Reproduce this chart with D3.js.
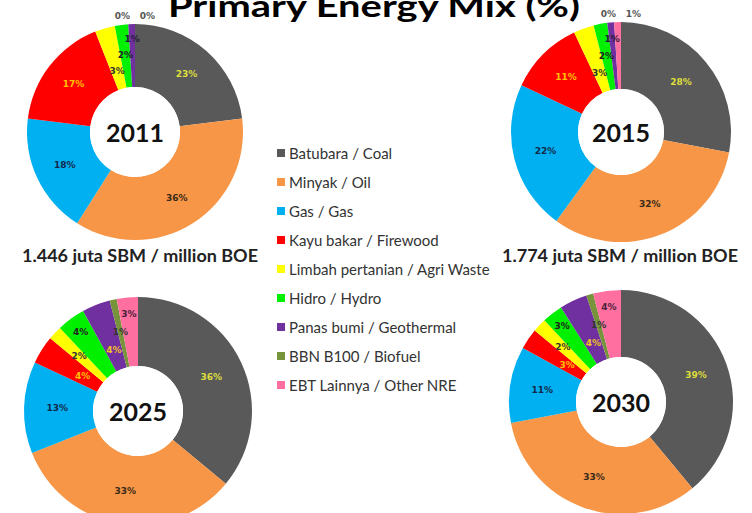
<!DOCTYPE html>
<html>
<head>
<meta charset="utf-8">
<script src="https://cdn.jsdelivr.net/npm/d3@7"></script>
<style>
  html, body { margin: 0; padding: 0; background: #fff; }
  #chartArea { width: 752px; height: 513px; overflow: hidden; }
</style>
</head>
<body>
<div id="chartArea"></div>
<script>
// primary energy mix donuts, 4 years + shared legend

const categories = [
   "Batubara / Coal",
   "Minyak / Oil",
   "Gas / Gas",
   "Kayu bakar / Firewood",
   "Limbah pertanian / Agri Waste",
   "Hidro / Hydro",
   "Panas bumi / Geothermal",
   "BBN B100 / Biofuel",
   "EBT Lainnya / Other NRE"
];

const years = ["2011", "2015", "2025", "2030"];

const mix2011 = [23, 36, 18, 17, 3, 2, 1, 0, 0];
const mix2015 = [28, 32, 22, 11, 3, 2, 1, 0, 1];
const mix2025 = [36, 33, 13, 4, 2, 4, 4, 1, 3];
const mix2030 = [39, 33, 11, 3, 2, 3, 4, 1, 4];

const mixes = [mix2011, mix2015, mix2025, mix2030];

const totals = ["1.446 juta SBM / million BOE", "1.774 juta SBM / million BOE"];

const title = "Primary Energy Mix (%)";

// styles
const sliceColors = ["#595959", "#f79646", "#00b0f0", "#ff0000", "#ffff00",
                     "#00f000", "#7030a0", "#77933c", "#ff6f9f"];
const labelColors = ["#dede3c", "#3a2a1a", "#13294b", "#ffc000", "#333333",
                     "#222222", "#f0c020", "#333333", "#4a1f3a"];

// where each donut sits
const donutPos = [
   {x: 135, y: 132, R: 108, r: 45},
   {x: 621, y: 132, R: 110, r: 43},
   {x: 138, y: 411, R: 114, r: 45},
   {x: 621, y: 402, R: 112, r: 45}
];

const W = 752, H = 513;

let svg = d3.select('#chartArea').append('svg')
   .attr('width', W)
   .attr('height', H)
   .style('font-family', 'Lato, sans-serif');

svg.append('rect').attr('width', W).attr('height', H).attr('fill', '#fff');

let pie = d3.pie().sort(null).value(d => d.v);

// small-slice label radii, as fraction of the ring band
const smallSteps = [0.3, 0.52, 0.76];

years.forEach(function (year, i) {
   let p = donutPos[i];
   let rows = mixes[i].map((v, j) => ({v: v, k: j}));
   let arcs = pie(rows);

   let arc = d3.arc().innerRadius(p.r).outerRadius(p.R);

   let g = svg.append('g').attr('transform', `translate(${p.x},${p.y})`);

   g.selectAll('path.slice').data(arcs)
      .enter().append('path')
      .attr('class', 'slice')
      .attr('d', arc)
      .attr('fill', d => sliceColors[d.data.k]);

   // label placement
   let smallIdx = 0;
   let outside = false;
   let outsideList = [];
   arcs.forEach(function (d) {
      let v = d.data.v;
      if (v === 0 || outside) {
         outside = true;
         outsideList.push(d);
         return;
      }
      let frac = 0.52;
      if (v < 5) {
         frac = smallSteps[smallIdx % 3];
         smallIdx++;
      }
      let rr = p.r + (p.R - p.r) * frac;
      let a = (d.startAngle + d.endAngle) / 2;
      d.lx = rr * Math.sin(a);
      d.ly = -rr * Math.cos(a);
   });
   outsideList.forEach(function (d, j) {
      d.lx = (j - (outsideList.length - 1) / 2) * 25;
      d.ly = -p.R - 8;
      d.out = true;
   });

   g.selectAll('text.pct').data(arcs)
      .enter().append('text')
      .attr('class', 'pct')
      .attr('x', d => d.lx)
      .attr('y', d => d.ly)
      .attr('text-anchor', 'middle')
      .attr('dominant-baseline', 'central')
      .style('font-family', '"DejaVu Sans", sans-serif')
      .style('font-weight', 'bold')
      .style('font-size', '9px')
      .attr('fill', function (d) {
         if (d.out) return '#555';
         if (d.data.k === 6 && d.data.v <= 1) return '#2a1a3a';
         return labelColors[d.data.k];
      })
      .text(d => d.data.v + '%');

   g.append('circle').attr('r', p.r).attr('fill', '#fff');

   g.append('text')
      .attr('text-anchor', 'middle')
      .attr('dominant-baseline', 'central')
      .style('font-weight', 'bold')
      .style('font-size', '25px')
      .attr('fill', '#111')
      .text(year);
});

// title, clipped at top like the source
svg.append('text')
   .attr('x', 374)
   .attr('y', 17)
   .attr('text-anchor', 'middle')
   .attr('textLength', 412)
   .attr('lengthAdjust', 'spacingAndGlyphs')
   .style('font-weight', 'bold')
   .style('font-size', '30px')
   .attr('fill', '#000')
   .text(title);

// totals under the top donuts
svg.selectAll('text.total').data(totals)
   .enter().append('text')
   .attr('class', 'total')
   .attr('x', (d, i) => i === 0 ? 140 : 620)
   .attr('y', 262)
   .attr('text-anchor', 'middle')
   .attr('textLength', 236)
   .attr('lengthAdjust', 'spacingAndGlyphs')
   .style('font-weight', 'bold')
   .style('font-size', '16.5px')
   .attr('fill', '#222')
   .text(d => d);

// legend
let legend = svg.append('g').attr('transform', 'translate(277,153)');
let y = d3.scalePoint().domain(categories).range([0, 232]);

let items = legend.selectAll('g').data(categories)
   .enter().append('g')
   .attr('transform', d => `translate(0,${y(d)})`);

items.append('rect')
   .attr('x', 0).attr('y', -4)
   .attr('width', 8).attr('height', 8)
   .attr('fill', (d, i) => sliceColors[i]);

items.append('text')
   .attr('x', 12)
   .attr('y', 0)
   .attr('dominant-baseline', 'central')
   .style('font-size', '15px')
   .attr('fill', '#333')
   .text(d => d);
</script>
</body>
</html>
